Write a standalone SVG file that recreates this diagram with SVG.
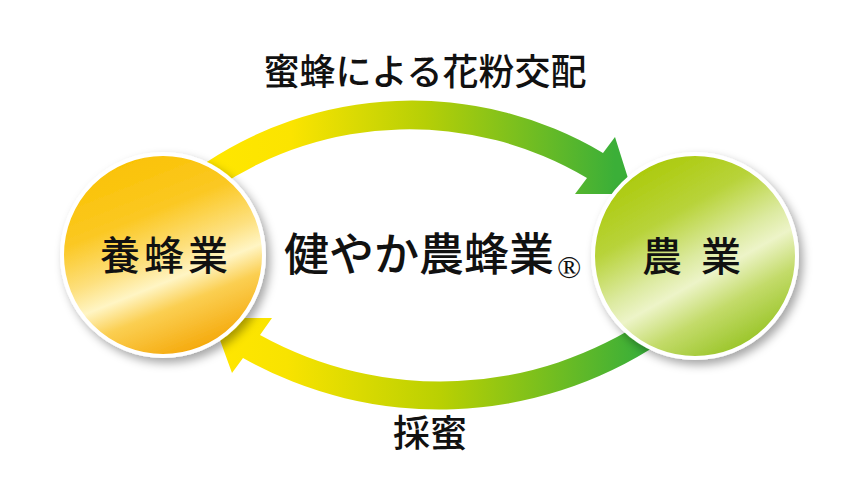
<svg xmlns="http://www.w3.org/2000/svg" width="865" height="500" viewBox="0 0 865 500">
  <defs>
    <style>
      .t { font-family: "Noto Sans CJK JP", "Noto Sans", sans-serif; fill: #111; font-weight: 500; }
      .reg { font-family: "Liberation Serif", "DejaVu Serif", serif; font-weight: normal; }
      .ring { stroke: #ffffff; stroke-width: 4; }
    </style>
    <linearGradient id="gTop" gradientUnits="userSpaceOnUse" x1="220" y1="0" x2="615" y2="0">
      <stop offset="0" stop-color="#FFE600"/>
      <stop offset="0.18" stop-color="#FBE400"/>
      <stop offset="0.52" stop-color="#B6CF06"/>
      <stop offset="1" stop-color="#3BAF38"/>
    </linearGradient>
    <linearGradient id="gBot" gradientUnits="userSpaceOnUse" x1="225" y1="0" x2="640" y2="0">
      <stop offset="0" stop-color="#FFE600"/>
      <stop offset="0.15" stop-color="#F8E300"/>
      <stop offset="0.52" stop-color="#B9D002"/>
      <stop offset="1" stop-color="#3BAF38"/>
    </linearGradient>
    <linearGradient id="gLeft" x1="0.3" y1="0" x2="0.7" y2="1">
      <stop offset="0" stop-color="#FAC200"/>
      <stop offset="0.3" stop-color="#FBC823"/>
      <stop offset="0.5" stop-color="#FDE07E"/>
      <stop offset="0.62" stop-color="#FFF5C4"/>
      <stop offset="0.74" stop-color="#FBCF52"/>
      <stop offset="1" stop-color="#F4A300"/>
    </linearGradient>
    <linearGradient id="gRight" x1="0.22" y1="0" x2="0.78" y2="1">
      <stop offset="0" stop-color="#A9C800"/>
      <stop offset="0.3" stop-color="#B8D33A"/>
      <stop offset="0.5" stop-color="#DCEAA0"/>
      <stop offset="0.6" stop-color="#EDF4C8"/>
      <stop offset="0.75" stop-color="#C3DB6A"/>
      <stop offset="1" stop-color="#8DBE14"/>
    </linearGradient>
    <filter id="shadow" x="-20%" y="-20%" width="150%" height="150%">
      <feDropShadow dx="4" dy="5" stdDeviation="5" flood-color="#000" flood-opacity="0.35"/>
    </filter>
  </defs>

  <rect width="865" height="500" fill="#ffffff"/>

  <g id="connectors">
    <path id="arrow-pollination" fill="url(#gTop)" d="M195,170 A374,374 0 0 1 603,153 L615,137 L633,194 L575,194 L587,178 A347,347 0 0 0 215,189 Z"/>
    <path id="arrow-honey" fill="url(#gBot)" d="M660,343 A400,400 0 0 1 243,358 L232,373 L212,318 L272,318 L260,335 A373,373 0 0 0 650,317 Z"/>
  </g>

  <g id="node-beekeeping">
    <circle cx="163" cy="255" r="101" fill="url(#gLeft)" class="ring" filter="url(#shadow)"/>
    <text class="t" x="166" y="270" font-size="40" text-anchor="middle" letter-spacing="4">養蜂業</text>
  </g>

  <g id="node-agriculture">
    <circle cx="695" cy="256" r="102" fill="url(#gRight)" class="ring" filter="url(#shadow)"/>
    <text class="t" x="642" y="271" font-size="40" letter-spacing="5" xml:space="preserve">農 業</text>
  </g>

  <g id="labels">
    <text class="t" x="425" y="85" font-size="36" text-anchor="middle">蜜蜂による花粉交配</text>
    <text class="t" x="284" y="271" font-size="45">健やか農蜂業<tspan class="reg" x="557" y="278" font-size="32">®</tspan></text>
    <text class="t" x="430" y="447" font-size="37" text-anchor="middle">採蜜</text>
  </g>
</svg>
